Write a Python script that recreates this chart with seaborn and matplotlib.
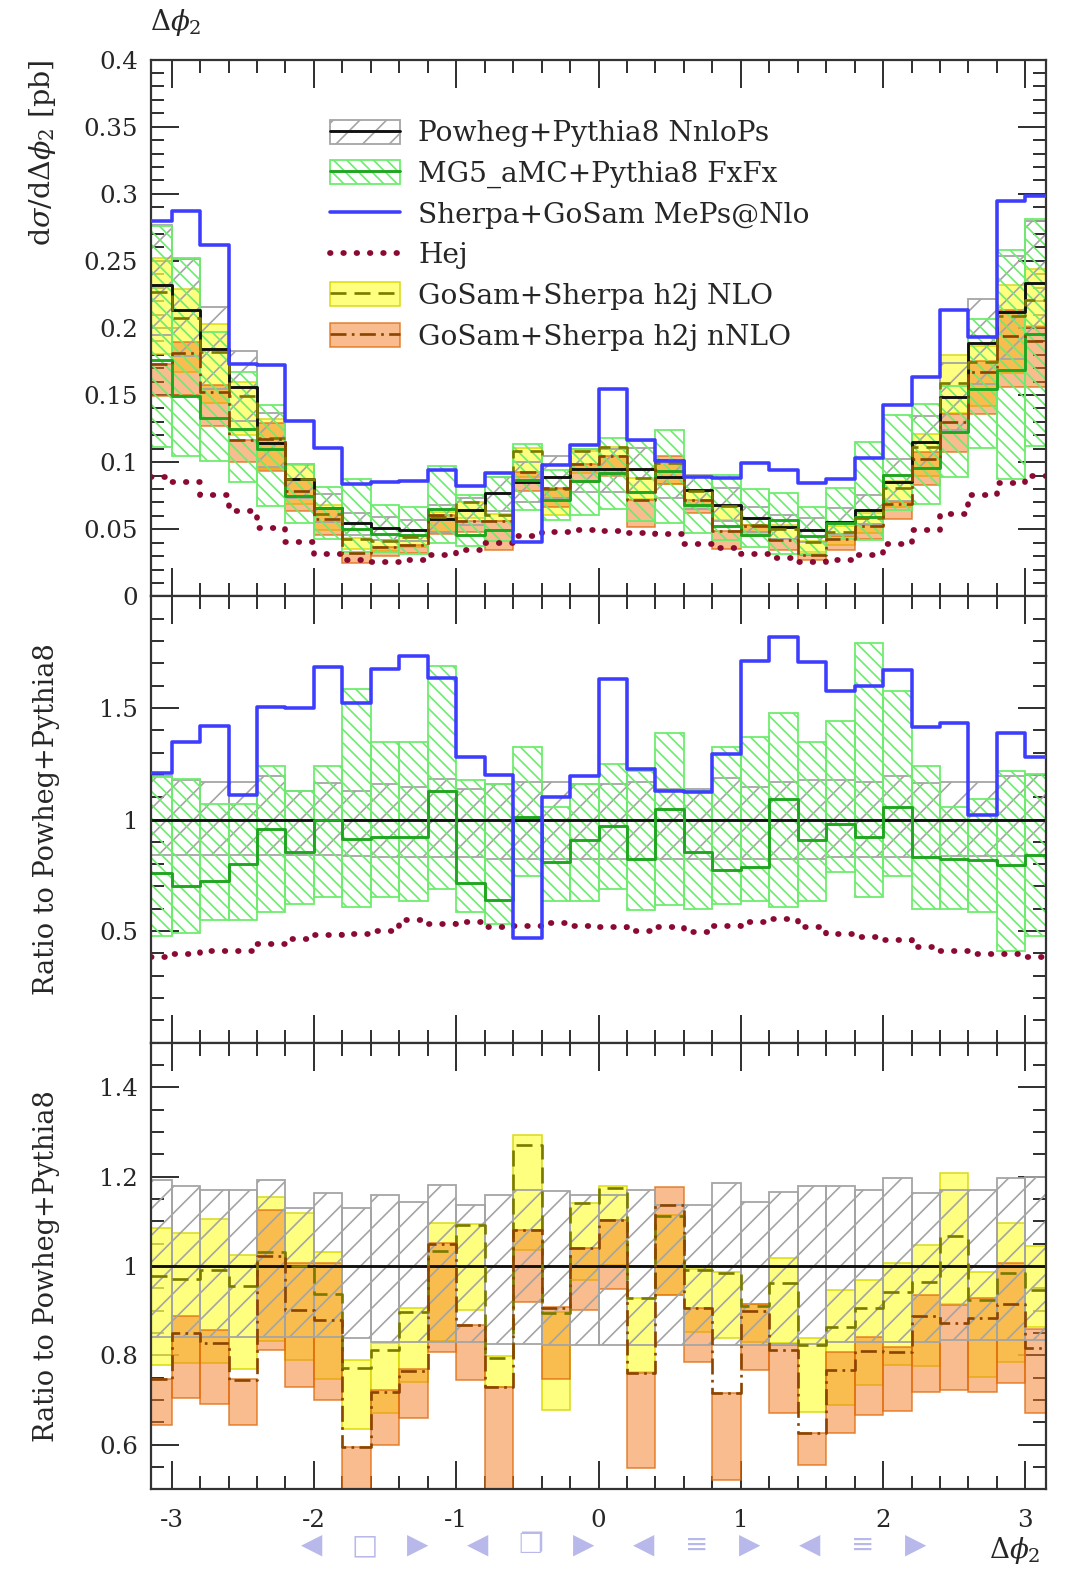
import numpy as np
import pandas as pd
import matplotlib
matplotlib.use("Agg")
import matplotlib.pyplot as plt
import seaborn as sns
from matplotlib.patches import Patch
from matplotlib.lines import Line2D
from matplotlib.ticker import MultipleLocator, FuncFormatter

# bin edges in delta phi_2, the two outer bins are cut at +-pi
edges = np.concatenate([[-np.pi], np.linspace(-3.0, 3.0, 31), [np.pi]])

# Powheg+Pythia8 NnloPs central value [pb]
powheg = np.array([0.232, 0.2135, 0.184, 0.156, 0.1146, 0.0873, 0.0657, 0.0550,
                   0.0508, 0.0495, 0.0575, 0.0644, 0.0768, 0.0855, 0.0892, 0.0947,
                   0.0947, 0.0947, 0.0892, 0.0793, 0.0681, 0.0582, 0.0520, 0.0495,
                   0.0557, 0.0644, 0.0855, 0.1153, 0.1488, 0.1891, 0.212, 0.2334])

# everything below is a ratio to the Powheg+Pythia8 central value
powheg_up = np.array([1.193, 1.178, 1.170, 1.170, 1.193, 1.129, 1.164, 1.129,
                      1.159, 1.144, 1.181, 1.137, 1.159, 1.170, 1.169, 1.159,
                      1.159, 1.170, 1.137, 1.137, 1.185, 1.144, 1.166, 1.178,
                      1.178, 1.170, 1.196, 1.163, 1.170, 1.170, 1.196, 1.200])
powheg_dn = np.array([0.840, 0.840, 0.840, 0.840, 0.840, 0.840, 0.840, 0.838,
                      0.830, 0.830, 0.830, 0.830, 0.825, 0.825, 0.823, 0.823,
                      0.823, 0.823, 0.823, 0.823, 0.823, 0.823, 0.825, 0.825,
                      0.830, 0.830, 0.830, 0.830, 0.835, 0.835, 0.835, 0.835])

mg5 = np.array([0.760, 0.700, 0.724, 0.799, 0.958, 0.854, 0.999, 0.913,
                0.921, 0.921, 1.130, 0.715, 0.640, 1.010, 0.809, 0.906,
                0.969, 0.824, 1.048, 0.854, 0.775, 0.787, 1.093, 0.906,
                0.981, 0.921, 1.055, 0.831, 0.824, 0.819, 0.794, 0.839])
mg5_up = np.array([1.190, 1.180, 1.070, 1.070, 1.242, 1.130, 1.242, 1.585,
                   1.346, 1.346, 1.690, 1.175, 1.160, 1.327, 1.055, 1.160,
                   1.249, 1.219, 1.387, 1.130, 1.324, 1.369, 1.476, 1.346,
                   1.443, 1.790, 1.578, 1.242, 1.055, 1.093, 1.219, 1.204])
mg5_dn = np.array([0.480, 0.490, 0.548, 0.548, 0.585, 0.622, 0.652, 0.607,
                   0.652, 0.637, 0.690, 0.585, 0.533, 0.749, 0.637, 0.637,
                   0.690, 0.593, 0.615, 0.600, 0.622, 0.637, 0.607, 0.637,
                   0.764, 0.652, 0.749, 0.600, 0.600, 0.585, 0.413, 0.480])

sherpa = np.array([1.207, 1.346, 1.421, 1.110, 1.503, 1.498, 1.682, 1.521,
                   1.675, 1.731, 1.633, 1.282, 1.201, 0.470, 1.100, 1.193,
                   1.630, 1.227, 1.130, 1.122, 1.294, 1.712, 1.816, 1.704,
                   1.575, 1.597, 1.672, 1.416, 1.433, 1.022, 1.388, 1.279])

hej = np.array([0.384, 0.399, 0.409, 0.409, 0.443, 0.466, 0.481, 0.488,
                0.500, 0.548, 0.533, 0.540, 0.518, 0.525, 0.536, 0.525,
                0.518, 0.500, 0.518, 0.496, 0.525, 0.540, 0.555, 0.518,
                0.488, 0.473, 0.458, 0.428, 0.413, 0.399, 0.399, 0.384])

nlo = np.array([0.978, 0.972, 0.991, 0.955, 1.032, 0.999, 0.937, 0.771,
                0.812, 0.898, 1.034, 1.092, 0.793, 1.271, 0.895, 1.142,
                1.174, 0.928, 1.112, 0.991, 0.985, 0.910, 0.963, 0.823,
                0.863, 0.905, 0.941, 0.965, 1.067, 0.924, 0.985, 0.946])
nlo_up = np.array([1.086, 1.073, 1.105, 1.025, 1.154, 1.118, 1.032, 0.789,
                   0.827, 0.905, 1.096, 1.093, 0.798, 1.293, 0.898, 1.142,
                   1.179, 0.928, 1.114, 0.993, 0.987, 0.915, 1.017, 0.838,
                   0.946, 0.969, 1.007, 1.047, 1.209, 0.987, 1.096, 1.045])
nlo_dn = np.array([0.778, 0.782, 0.782, 0.769, 0.831, 0.789, 0.748, 0.636,
                   0.670, 0.741, 0.831, 0.901, 0.730, 1.036, 0.677, 0.969,
                   1.002, 0.763, 0.935, 0.853, 0.838, 0.830, 0.827, 0.674,
                   0.689, 0.733, 0.778, 0.775, 0.916, 0.752, 0.786, 0.864])

nnlo = np.array([0.746, 0.849, 0.827, 0.745, 1.022, 0.901, 0.878, 0.594,
                 0.719, 0.766, 1.049, 0.868, 0.730, 1.081, 0.907, 1.040,
                 1.103, 0.760, 1.137, 0.905, 0.715, 0.900, 0.812, 0.627,
                 0.767, 0.810, 0.808, 0.887, 0.872, 0.883, 0.915, 0.816])
nnlo_up = np.array([0.746, 0.887, 0.857, 0.746, 1.125, 1.006, 1.006, 0.595,
                    0.722, 0.769, 1.051, 0.868, 0.730, 1.081, 0.909, 1.040,
                    1.103, 0.760, 1.176, 0.907, 0.715, 0.915, 0.823, 0.627,
                    0.808, 0.840, 0.819, 0.934, 0.913, 0.928, 1.006, 0.860])
nnlo_dn = np.array([0.644, 0.704, 0.691, 0.644, 0.812, 0.730, 0.700, 0.450,
                    0.599, 0.659, 0.808, 0.745, 0.450, 0.920, 0.748, 0.901,
                    0.948, 0.547, 0.935, 0.786, 0.520, 0.767, 0.670, 0.554,
                    0.625, 0.666, 0.676, 0.719, 0.722, 0.719, 0.737, 0.670])

labels = ["Powheg+Pythia8 NnloPs", "MG5_aMC+Pythia8 FxFx",
          "Sherpa+GoSam MePs@Nlo", "Hej",
          "GoSam+Sherpa h2j NLO", "GoSam+Sherpa h2j nNLO"]

DPI = 160
sns.set_theme(style="ticks")
plt.rcParams["font.family"] = ["DejaVu Serif", "DejaVu Sans"]
plt.rcParams["mathtext.fontset"] = "dejavuserif"
plt.rcParams["hatch.linewidth"] = 0.75
plt.rcParams["axes.linewidth"] = 1.0
plt.rcParams["axes.edgecolor"] = "#333333"

BLACK = "#111111"
GREEN = "#1fa51f"
LGREEN = "#6cec6c"
GREY = "#a4a4a4"
BLUE = "#3d3dff"
HEJC = "#8a0a32"
YFILL = (1.0, 1.0, 0.33, 0.75)
YEDGE = (0.84, 0.84, 0.0, 0.9)
YLINE = "#7a7a00"
OFILL = (0.96, 0.48, 0.13, 0.5)
OEDGE = (0.88, 0.42, 0.05, 0.8)
OLINE = "#8b4500"
GREY_HATCH = "//"
GREEN_HATCH = "\\\\\\\\"

grey_band = dict(facecolor="none", edgecolor=GREY, hatch=GREY_HATCH, linewidth=0.8, zorder=1.5)
green_band = dict(facecolor="none", edgecolor=LGREEN, hatch=GREEN_HATCH, linewidth=0.8, zorder=1.6)
yellow_band = dict(facecolor=YFILL, edgecolor=YEDGE, linewidth=0.7, zorder=1.0)
orange_band = dict(facecolor=OFILL, edgecolor=OEDGE, linewidth=0.7, zorder=1.1)

ls_nlo = (0, (6, 3))
ls_nnlo = (0, (6, 2, 1, 2))
ls_hej = (0, (0.1, 2.2))


def step_line(ax, vals, **kw):
    df = pd.DataFrame({"x": edges, "y": np.append(vals, vals[-1])})
    sns.lineplot(data=df, x="x", y="y", ax=ax, estimator=None, sort=False,
                 drawstyle="steps-post", legend=False, **kw)


def band(ax, lo, hi, **kw):
    ax.bar(edges[:-1], hi - lo, width=np.diff(edges), bottom=lo, align="edge", **kw)


fig = plt.figure(figsize=(1066 / DPI, 1576 / DPI), dpi=DPI)
left, width = 0.1421, 0.8387
ax1 = fig.add_axes([left, 0.6216, width, 0.3406])
ax2 = fig.add_axes([left, 0.3384, width, 0.2832])
ax3 = fig.add_axes([left, 0.0550, width, 0.2834])

# --- top: absolute cross sections
band(ax1, powheg * nlo_dn, powheg * nlo_up, **yellow_band)
band(ax1, powheg * nnlo_dn, powheg * nnlo_up, **orange_band)
band(ax1, powheg * powheg_dn, powheg * powheg_up, **grey_band)
band(ax1, powheg * mg5_dn, powheg * mg5_up, **green_band)
step_line(ax1, powheg * hej, color=HEJC, linewidth=2.6, linestyle=ls_hej,
          dash_capstyle="round", zorder=2.0)
step_line(ax1, powheg, color=BLACK, linewidth=1.3, zorder=2.2)
step_line(ax1, powheg * mg5, color=GREEN, linewidth=1.3, zorder=2.3)
step_line(ax1, powheg * nlo, color=YLINE, linewidth=1.2, linestyle=ls_nlo, zorder=2.4)
step_line(ax1, powheg * nnlo, color=OLINE, linewidth=1.2, linestyle=ls_nnlo, zorder=2.5)
step_line(ax1, powheg * sherpa, color=BLUE, linewidth=1.6, zorder=2.6)

# --- middle: ratios for the shower matched / merged predictions
band(ax2, powheg_dn, powheg_up, **grey_band)
band(ax2, mg5_dn, mg5_up, **green_band)
step_line(ax2, hej, color=HEJC, linewidth=2.6, linestyle=ls_hej,
          dash_capstyle="round", zorder=2.0)
step_line(ax2, powheg / powheg, color=BLACK, linewidth=1.3, zorder=2.2)
step_line(ax2, mg5, color=GREEN, linewidth=1.3, zorder=2.3)
step_line(ax2, sherpa, color=BLUE, linewidth=1.6, zorder=2.6)

# --- bottom: ratios for the fixed order predictions
band(ax3, nlo_dn, nlo_up, **yellow_band)
band(ax3, nnlo_dn, nnlo_up, **orange_band)
band(ax3, powheg_dn, powheg_up, **grey_band)
step_line(ax3, powheg / powheg, color=BLACK, linewidth=1.3, zorder=2.2)
step_line(ax3, nlo, color=YLINE, linewidth=1.2, linestyle=ls_nlo, zorder=2.4)
step_line(ax3, nnlo, color=OLINE, linewidth=1.2, linestyle=ls_nnlo, zorder=2.5)

fmt = FuncFormatter(lambda v, p: "%g" % round(v, 3))
for ax in (ax1, ax2, ax3):
    ax.set_xlim(-np.pi, np.pi)
    ax.set_xlabel("")
    ax.xaxis.set_major_locator(MultipleLocator(1))
    ax.xaxis.set_minor_locator(MultipleLocator(0.2))
    ax.xaxis.set_major_formatter(fmt)
    ax.yaxis.set_major_formatter(fmt)
    ax.tick_params(which="both", direction="in", top=True, right=True,
                   width=0.9, color="#333333", labelsize=11, pad=6)
    ax.tick_params(which="major", length=12.5)
    ax.tick_params(which="minor", length=6)
    ax.tick_params(axis="x", pad=9)

ax1.set_ylim(0, 0.4)
ax1.yaxis.set_major_locator(MultipleLocator(0.05))
ax1.yaxis.set_minor_locator(MultipleLocator(0.01))
ax2.set_ylim(0, 2)
ax2.set_yticks([0.5, 1.0, 1.5])
ax2.yaxis.set_minor_locator(MultipleLocator(0.1))
ax3.set_ylim(0.5, 1.5)
ax3.yaxis.set_major_locator(MultipleLocator(0.2))
ax3.yaxis.set_minor_locator(MultipleLocator(0.05))
ax1.tick_params(labelbottom=False)
ax2.tick_params(labelbottom=False)

ax1.set_ylabel(r"d$\sigma$/d$\Delta\phi_2$ [pb]", loc="top", fontsize=12.8)
ax1.yaxis.set_label_coords(-0.105, 1.0)
for ax in (ax2, ax3):
    ax.set_ylabel("Ratio to Powheg+Pythia8", fontsize=12.2)
    ax.yaxis.set_label_coords(-0.102, 0.5)

handles = [
    (Patch(facecolor="none", edgecolor=GREY, hatch=GREY_HATCH, linewidth=0.8),
     Line2D([], [], color=BLACK, linewidth=1.3)),
    (Patch(facecolor="none", edgecolor=LGREEN, hatch=GREEN_HATCH, linewidth=0.8),
     Line2D([], [], color=GREEN, linewidth=1.3)),
    Line2D([], [], color=BLUE, linewidth=1.6),
    Line2D([], [], color=HEJC, linewidth=2.6, linestyle=ls_hej, dash_capstyle="round"),
    (Patch(facecolor=YFILL, edgecolor=YEDGE, linewidth=0.7),
     Line2D([], [], color=YLINE, linewidth=1.2, linestyle=ls_nlo)),
    (Patch(facecolor=OFILL, edgecolor=OEDGE, linewidth=0.7),
     Line2D([], [], color=OLINE, linewidth=1.2, linestyle=ls_nnlo)),
]
ax1.legend(handles, labels, loc="upper left", bbox_to_anchor=(0.2, 0.888),
           frameon=False, fontsize=12.6, handlelength=2.5, handleheight=0.95,
           labelspacing=0.46, handletextpad=0.65, borderaxespad=0, borderpad=0)

fig.text(150 / 1066, 1 - 22 / 1576, r"$\Delta\phi_2$", fontsize=12.5, ha="left", va="center")
fig.text(1040 / 1066, 1 - 1550 / 1576, r"$\Delta\phi_2$", fontsize=12.5, ha="right", va="center")

# beamer navigation symbols at the foot of the slide
nav = [("◀", "□", "▶"), ("◀", "❐", "▶"), ("◀", "≡", "▶"), ("◀", "≡", "▶")]
for k, group in enumerate(nav):
    cx = (365 + 166 * k) / 1066
    for j, g in enumerate(group):
        fig.text(cx + (j - 1) * 53 / 1066, 1 - 1545 / 1576, g, family="DejaVu Sans",
                 fontsize=12.5, color="#b8b8ea", ha="center", va="center")

fig.savefig("out.png", dpi=DPI)
